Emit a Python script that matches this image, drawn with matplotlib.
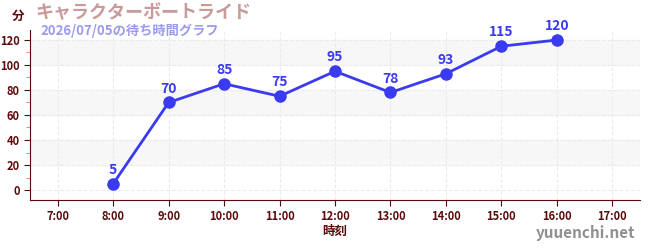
import matplotlib.pyplot as plt
from matplotlib.ticker import MultipleLocator

plt.rcParams['font.family'] = ['Noto Sans CJK JP', 'DejaVu Sans']

hours = [8, 9, 10, 11, 12, 13, 14, 15, 16]
waits = [5, 70, 85, 75, 95, 78, 93, 115, 120]
tick_hours = list(range(7, 18))
tick_labels = ['%d:00' % h for h in tick_hours]

dark = '#5a0a0a'
blue = '#3a3af0'

fig = plt.figure(figsize=(6.5, 2.5), dpi=100)
ax = fig.add_axes([30 / 650, 50 / 250, 610 / 650, 170 / 250])
ax.set_xlim(6.5, 17.5)
ax.set_ylim(-8, 128)

for lo in (20, 60, 100):
    ax.axhspan(lo, lo + 20, color='#f7f7f7', zorder=0)
ax.grid(True, color='#ebebeb', linestyle='--', linewidth=0.8, zorder=0)

ax.plot(hours, waits, color=blue, linewidth=2, marker='o', markersize=8, zorder=3)
for h, w in zip(hours, waits):
    ax.annotate(str(w), (h, w), textcoords='offset points', xytext=(0, 5),
                ha='center', va='bottom', color=blue, fontsize=10, fontweight='bold')

ax.set_xticks(tick_hours)
ax.set_xticklabels(tick_labels)
ax.set_yticks(range(0, 121, 20))
ax.yaxis.set_minor_locator(MultipleLocator(10))
ax.tick_params(axis='both', colors=dark, labelsize=8, length=4)
ax.tick_params(axis='y', which='minor', colors='#f07070', length=3)
for lbl in ax.get_xticklabels() + ax.get_yticklabels():
    lbl.set_fontweight('bold')
for s in ('top', 'right'):
    ax.spines[s].set_visible(False)
ax.spines['left'].set_color(dark)
ax.spines['bottom'].set_color(dark)

ax.set_xlabel('時刻', color=dark, fontsize=9, fontweight='bold', labelpad=1)
fig.text(18 / 650, 1 - 16 / 250, '分', color=dark, fontsize=9, fontweight='bold', va='center', ha='center')
fig.text(35 / 650, 1 - 13 / 250, 'キャラクターボートライド', color='#c89a9a', fontsize=13,
         fontweight='bold', va='center')
fig.text(40 / 650, 1 - 31 / 250, '2026/07/05の待ち時間グラフ', color='#9a9af0', fontsize=9.5,
         fontweight='bold', va='center')
fig.text(635 / 650, 1 - 233 / 250, 'yuuenchi.net', color='#909090', fontsize=11,
         fontweight='bold', ha='right', va='center')

fig.savefig('out.png')
